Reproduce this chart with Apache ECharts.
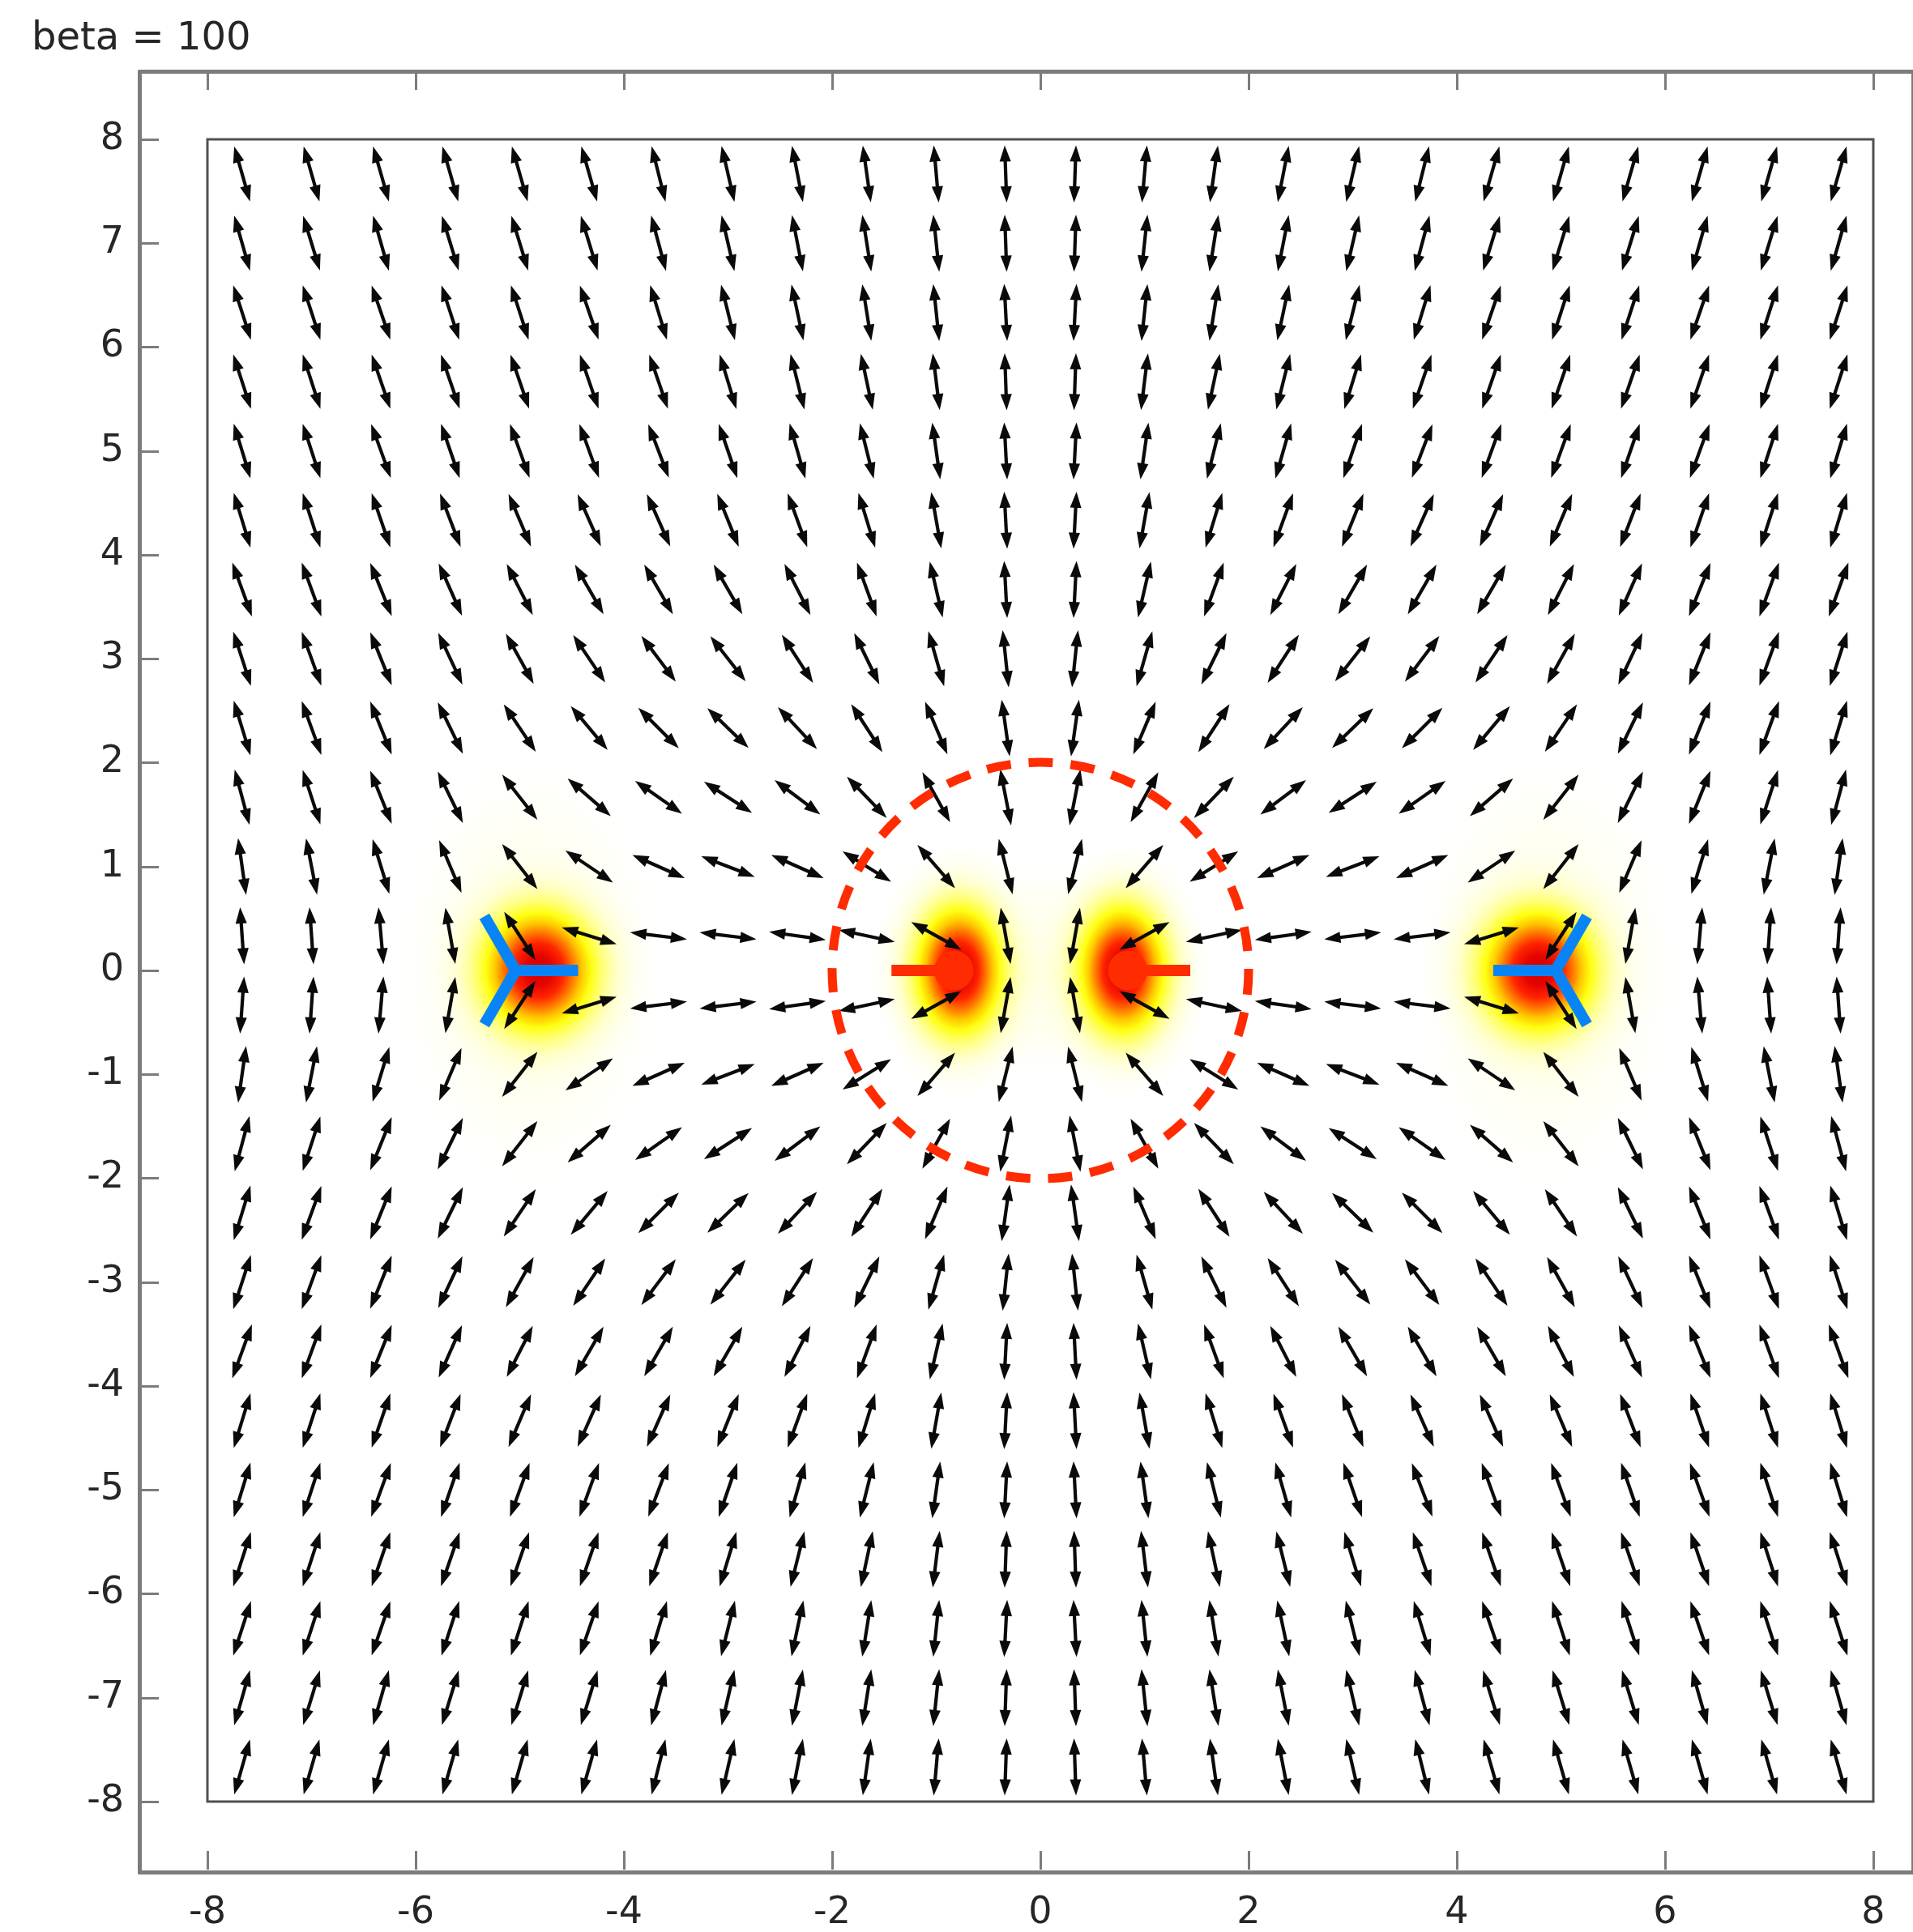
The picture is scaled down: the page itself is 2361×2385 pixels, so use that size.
<!DOCTYPE html>
<html>
<head>
<meta charset="utf-8">
<script src="https://cdn.jsdelivr.net/npm/echarts@6/dist/echarts.min.js"></script>
<style>html,body{margin:0;padding:0;background:#fff}#c{width:2361px;height:2385px}</style>
</head>
<body>
<div id="c"></div>
<script>
// ---- data ----
const titleText = 'beta = 100';
const xTickValues = [-8, -6, -4, -2, 0, 2, 4, 6, 8];
const yTickValues = [-8, -7, -6, -5, -4, -3, -2, -1, 0, 1, 2, 3, 4, 5, 6, 7, 8];

// arrow grid centres
const colX = [-7.667,-7,-6.333,-5.667,-5,-4.333,-3.667,-3,-2.333,-1.667,-1,-0.333,0.333,1,1.667,2.333,3,3.667,4.333,5,5.667,6.333,7,7.667];
const rowY = [7.667,7,6.333,5.667,5,4.333,3.667,3,2.333,1.667,1,0.333,-0.333,-1,-1.667,-2.333,-3,-3.667,-4.333,-5,-5.667,-6.333,-7,-7.667];

// director angle (degrees from +x) of each double-headed arrow, rows top -> bottom, columns left -> right
const directorAngles = [
  [106,106,106,106,106,106,104,103,101,98,95,92, 88,85,82,79,77,76,74,74,74,74,74,74],
  [106,107,106,107,107,107,105,103,101,99,96,92, 88,84,81,79,77,75,73,73,73,74,73,74],
  [108,108,109,108,108,109,107,104,102,99,96,93, 87,84,81,78,76,73,71,72,72,71,72,72],
  [108,108,109,109,109,109,109,107,104,102,97,92, 88,83,78,76,73,71,71,71,71,71,72,72],
  [107,108,110,109,110,110,111,109,106,104,98,93, 87,82,76,74,71,69,70,70,71,70,72,73],
  [107,108,109,111,113,114,114,112,110,107,100,93, 87,80,73,70,68,66,66,67,69,71,72,73],
  [110,110,112,114,117,120,120,120,117,110,103,93, 87,77,70,63,60,60,60,63,66,68,70,70],
  [108,110,112,115,119,124,127,128,123,116,106,96, 84,74,64,57,52,53,56,61,65,68,70,72],
  [107,110,112,116,124,130,135,136,133,123,113,98, 82,67,57,47,44,45,50,56,64,68,70,73],
  [105,108,112,116,128,139,145,147,143,134,119,101, 79,61,46,37,33,35,41,52,64,68,72,75],
  [98,101,107,113,128,146,156,159,156,148,131,104, 76,49,32,24,21,24,34,52,67,73,79,82],
  [94,94,95,100,123,163,173,173,172,168,151,100, 80,29,12,8,7,7,17,57,80,85,86,86],
  [86,86,85,80,57,17,7,7,8,12,29,80, 100,151,168,172,173,173,163,123,100,95,94,94],
  [82,79,73,67,52,34,24,21,24,32,49,76, 104,131,148,156,159,156,146,128,113,107,101,98],
  [75,72,68,64,52,41,35,33,37,46,61,79, 101,119,134,143,147,145,139,128,116,112,108,105],
  [73,70,68,64,56,50,45,44,47,57,67,82, 98,113,123,133,136,135,130,124,116,112,110,107],
  [72,70,68,65,61,56,53,52,57,64,74,84, 96,106,116,123,128,127,124,119,115,112,110,108],
  [70,70,68,66,63,60,60,60,63,70,77,87, 93,103,110,117,120,120,120,117,114,112,110,110],
  [73,72,71,69,67,66,66,68,70,73,80,87, 93,100,107,110,112,114,114,113,111,109,108,107],
  [73,72,70,71,70,70,69,71,74,76,82,87, 93,98,104,106,109,111,110,110,109,110,108,107],
  [72,72,71,71,71,71,71,73,76,78,83,88, 92,97,102,104,107,109,109,109,109,109,108,108],
  [72,72,71,72,72,71,73,76,78,81,84,87, 93,96,99,102,104,107,109,108,108,109,108,108],
  [74,73,74,73,73,73,75,77,79,81,84,88, 92,96,99,101,103,105,107,107,107,106,107,106],
  [74,74,74,74,74,74,76,77,79,82,85,88, 92,95,98,101,103,104,106,106,106,106,106,106]
];

// +1/2 defects: [x, y, tail direction (deg)]
const plusDefects = [[-0.83, 0, 180], [0.84, 0, 0]];
// -1/2 defects: [x, y, direction of one arm (deg)]
const minusDefects = [[-5.04, 0, 0], [4.95, 0, 180]];
// glow spots: [x, y, radius x, radius y] (data units)
const glowSpots = [[-4.82, 0, 1.1, 1.2], [-0.78, 0, 0.85, 1.25], [0.79, 0, 0.85, 1.25], [4.78, 0, 1.1, 1.2]];
// pale washes: [x, y, rx, ry]
const paleWash = [[0, 0, 1.7, 1.05], [-4.9, 0, 1.3, 2.1], [4.85, 0, 1.3, 2.1]];
// dashed circle: [cx, cy, radius]
const dashedCircle = [[0, 0, 2]];

// ---- build series data ----
const arrowData = [];
for (let j = 0; j < rowY.length; j++) {
  for (let i = 0; i < colX.length; i++) {
    arrowData.push([colX[i], rowY[j], directorAngles[j][i]]);
  }
}

const ARROW_LEN = 0.55;   // data units
const DEFECT_ARM = 0.6;   // data units
const DOT_R = 0.19;       // data units
const RED = '#fe2c00';
const BLUE = '#0984f6';
const FONT = 'DejaVu Sans';

function renderArrow(params, api) {
  const a = api.value(2) * Math.PI / 180;
  const c = api.coord([api.value(0), api.value(1)]);
  const half = api.size([ARROW_LEN / 2, 0])[0];
  const dx = Math.cos(a), dy = -Math.sin(a);
  const nx = -dy, ny = dx;
  const hl = 20, hw = 7;
  const p1 = [c[0] + dx * half, c[1] + dy * half];
  const p2 = [c[0] - dx * half, c[1] - dy * half];
  const b1 = [p1[0] - dx * hl, p1[1] - dy * hl];
  const b2 = [p2[0] + dx * hl, p2[1] + dy * hl];
  return {
    type: 'group', silent: true,
    children: [
      { type: 'line', shape: { x1: b1[0] + dx * 5, y1: b1[1] + dy * 5, x2: b2[0] - dx * 5, y2: b2[1] - dy * 5 }, style: { stroke: '#0a0a0a', lineWidth: 4.2 } },
      { type: 'polygon', shape: { points: [p1, [b1[0] + nx * hw, b1[1] + ny * hw], [b1[0] - nx * hw, b1[1] - ny * hw]] }, style: { fill: '#0a0a0a' } },
      { type: 'polygon', shape: { points: [p2, [b2[0] + nx * hw, b2[1] + ny * hw], [b2[0] - nx * hw, b2[1] - ny * hw]] }, style: { fill: '#0a0a0a' } }
    ]
  };
}

const glowStops = [
  { offset: 0, color: '#d00000' },
  { offset: 0.12, color: '#e60400' },
  { offset: 0.22, color: '#ff2400' },
  { offset: 0.3, color: '#ff7400' },
  { offset: 0.38, color: '#ffc800' },
  { offset: 0.46, color: '#ffff10' },
  { offset: 0.56, color: 'rgba(255,255,90,0.8)' },
  { offset: 0.7, color: 'rgba(255,255,160,0.45)' },
  { offset: 0.85, color: 'rgba(255,255,200,0.18)' },
  { offset: 1, color: 'rgba(255,255,230,0)' }
];
const washStops = [
  { offset: 0, color: 'rgba(255,255,195,0.5)' },
  { offset: 0.6, color: 'rgba(255,255,210,0.28)' },
  { offset: 1, color: 'rgba(255,255,230,0)' }
];

function makeGlowRenderer(stops) {
  return function (params, api) {
    const c = api.coord([api.value(0), api.value(1)]);
    const rx = api.size([api.value(2), 0])[0];
    const ry = api.size([0, api.value(3)])[1];
    return {
      type: 'circle', silent: true,
      x: c[0], y: c[1], scaleX: 1, scaleY: ry / rx,
      shape: { cx: 0, cy: 0, r: rx },
      style: { fill: new echarts.graphic.RadialGradient(0.5, 0.5, 0.5, stops) }
    };
  };
}

function renderCircle(params, api) {
  const c = api.coord([api.value(0), api.value(1)]);
  const r = api.size([api.value(2), 0])[0];
  return {
    type: 'circle', silent: true,
    shape: { cx: c[0], cy: c[1], r: r },
    style: { fill: 'none', stroke: RED, lineWidth: 11, lineDash: [30, 22] }
  };
}

function renderPlus(params, api) {
  const x = api.value(0), y = api.value(1), a = api.value(2) * Math.PI / 180;
  const c = api.coord([x, y]);
  const e = api.coord([x + DEFECT_ARM * Math.cos(a), y + DEFECT_ARM * Math.sin(a)]);
  const r = api.size([DOT_R, 0])[0];
  return {
    type: 'group', silent: true,
    children: [
      { type: 'line', shape: { x1: c[0], y1: c[1], x2: e[0], y2: e[1] }, style: { stroke: RED, lineWidth: 14 } },
      { type: 'circle', shape: { cx: c[0], cy: c[1], r: r }, style: { fill: RED } }
    ]
  };
}

function renderMinus(params, api) {
  const x = api.value(0), y = api.value(1), a0 = api.value(2) * Math.PI / 180;
  const c = api.coord([x, y]);
  const children = [];
  for (let k = 0; k < 3; k++) {
    const a = a0 + k * 2 * Math.PI / 3;
    const e = api.coord([x + DEFECT_ARM * Math.cos(a), y + DEFECT_ARM * Math.sin(a)]);
    children.push({ type: 'line', shape: { x1: c[0], y1: c[1], x2: e[0], y2: e[1] }, style: { stroke: BLUE, lineWidth: 14 } });
  }
  return { type: 'group', silent: true, children: children };
}

const GRAY = '#7c7c7c';
const LABEL_COLOR = '#262626';

const chart = echarts.init(document.getElementById('c'), null, { renderer: 'canvas' });
chart.setOption({
  animation: false,
  backgroundColor: '#ffffff',
  title: {
    text: titleText, left: 34, top: 17,
    textStyle: { fontFamily: FONT, fontSize: 48, fontWeight: 'normal', color: LABEL_COLOR, lineHeight: 54 }
  },
  grid: [
    { left: 256, top: 172, width: 2056, height: 2056, show: true, borderColor: '#505050', borderWidth: 3, backgroundColor: 'transparent', z: 1 },
    { left: 172.5, top: 88.5, width: 2223, height: 2223, show: false }
  ],
  xAxis: [
    {
      gridIndex: 0, type: 'value', min: -8, max: 8, interval: 2, position: 'bottom', offset: 84,
      axisLine: { show: false, onZero: false },
      axisTick: { show: true, inside: true, length: 23, lineStyle: { color: GRAY, width: 3 } },
      axisLabel: { show: true, margin: 31, fontFamily: FONT, fontSize: 46, color: LABEL_COLOR },
      splitLine: { show: false }
    },
    {
      gridIndex: 0, type: 'value', min: -8, max: 8, interval: 2, position: 'top', offset: 84,
      axisLine: { show: false, onZero: false },
      axisTick: { show: true, inside: true, length: 23, lineStyle: { color: GRAY, width: 3 } },
      axisLabel: { show: false },
      splitLine: { show: false }
    },
    {
      gridIndex: 1, type: 'value', min: 0, max: 1, position: 'bottom',
      axisLine: { show: true, onZero: false, lineStyle: { color: GRAY, width: 5 } },
      axisTick: { show: false }, axisLabel: { show: false }, splitLine: { show: false }
    },
    {
      gridIndex: 1, type: 'value', min: 0, max: 1, position: 'top',
      axisLine: { show: true, onZero: false, lineStyle: { color: GRAY, width: 5 } },
      axisTick: { show: false }, axisLabel: { show: false }, splitLine: { show: false }
    }
  ],
  yAxis: [
    {
      gridIndex: 0, type: 'value', min: -8, max: 8, interval: 1, position: 'left', offset: 83,
      axisLine: { show: false, onZero: false },
      axisTick: { show: true, inside: true, length: 23, lineStyle: { color: GRAY, width: 3 } },
      axisLabel: { show: true, margin: 20, fontFamily: FONT, fontSize: 46, color: LABEL_COLOR },
      splitLine: { show: false }
    },
    {
      gridIndex: 1, type: 'value', min: 0, max: 1, position: 'left',
      axisLine: { show: true, onZero: false, lineStyle: { color: GRAY, width: 5 } },
      axisTick: { show: false }, axisLabel: { show: false }, splitLine: { show: false }
    },
    {
      gridIndex: 1, type: 'value', min: 0, max: 1, position: 'right',
      axisLine: { show: true, onZero: false, lineStyle: { color: GRAY, width: 5 } },
      axisTick: { show: false }, axisLabel: { show: false }, splitLine: { show: false }
    }
  ],
  series: [
    { type: 'custom', name: 'wash', xAxisIndex: 0, yAxisIndex: 0, data: paleWash, renderItem: makeGlowRenderer(washStops), z: 2, silent: true },
    { type: 'custom', name: 'glow', xAxisIndex: 0, yAxisIndex: 0, data: glowSpots, renderItem: makeGlowRenderer(glowStops), z: 3, silent: true },
    { type: 'custom', name: 'director', xAxisIndex: 0, yAxisIndex: 0, data: arrowData, renderItem: renderArrow, z: 4, silent: true },
    { type: 'custom', name: 'circle', xAxisIndex: 0, yAxisIndex: 0, data: dashedCircle, renderItem: renderCircle, z: 5, silent: true },
    { type: 'custom', name: 'plus', xAxisIndex: 0, yAxisIndex: 0, data: plusDefects, renderItem: renderPlus, z: 6, silent: true },
    { type: 'custom', name: 'minus', xAxisIndex: 0, yAxisIndex: 0, data: minusDefects, renderItem: renderMinus, z: 6, silent: true }
  ]
});
</script>
</body>
</html>
